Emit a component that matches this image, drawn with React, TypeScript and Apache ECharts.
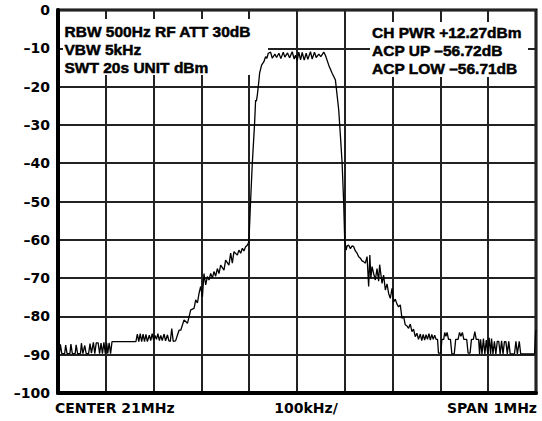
import React, { useEffect, useRef } from "react";
import * as echarts from "echarts";

// Frequency offset from centre (kHz) and level (dBm)
const leftFloor: number[][] = [
  [-500, -89.7], [-497, -89.7], [-495, -87.3], [-492, -89.7], [-486, -89.7], [-484, -87.5], [-481, -89.7],
  [-475, -89.7], [-473, -87.2], [-470, -89.7], [-464, -89.7], [-462, -87.4], [-459, -89.7], [-453, -89.7],
  [-451, -87.0], [-448, -89.7], [-444, -87.6], [-441, -89.7], [-436, -89.7], [-433, -87.1], [-430, -89.6],
  [-426, -86.8], [-423, -89.7], [-420, -86.9], [-416, -86.9], [-413, -89.7], [-410, -87.0], [-407, -89.7],
  [-404, -86.8], [-401, -89.7], [-398, -87.0], [-396, -89.7], [-393, -86.9], [-390, -89.7], [-387, -86.6],
  [-337, -86.6], [-334, -84.6], [-331, -86.6], [-328, -84.5], [-325, -86.6], [-322, -84.6], [-319, -86.6],
  [-316, -84.7], [-313, -86.6], [-309, -84.9], [-306, -86.3], [-303, -84.5], [-300, -86.2], [-297, -85.0],
  [-294, -86.0], [-291, -84.5], [-288, -86.3], [-285, -85.0], [-282, -86.3], [-278, -84.6], [-275, -86.4],
  [-271, -84.8], [-268, -86.4], [-265, -86.5], [-262, -83.2], [-259, -86.5], [-254, -86.4],
];

const leftSkirt: number[][] = [
  [-246.8, -83.6], [-243.2, -83.6], [-236.3, -80.9], [-229.2, -81.8], [-222.3, -78.3], [-215.4, -77.9],
  [-211.9, -75.7], [-208.3, -76.5], [-205, -74.0], [-201.5, -72.2], [-197.9, -74.9], [-194.6, -68.8],
  [-191.0, -71.8], [-187.5, -69.6], [-184.1, -70.5], [-180.6, -68.8], [-177.0, -70.0], [-173.7, -68.3],
  [-170.2, -69.5], [-166.6, -67.5], [-163.2, -68.8], [-159.7, -66.6], [-152.8, -67.9], [-149.3, -65.3],
  [-142.4, -66.6], [-138.8, -63.5], [-135.3, -66.1], [-131.9, -63.1], [-124.8, -64.0], [-121.5, -62.7],
  [-117.9, -63.5], [-114.4, -62.2], [-111.1, -62.9], [-107.5, -61.8], [-104.0, -61.4], [-100.6, -60.5],
  [-97, -49.6], [-93.5, -40], [-88.7, -29.6], [-86.6, -23.5], [-85, -23.8], [-83, -22.2], [-81, -20],
  [-78.2, -16.5], [-74.1, -14.4], [-69.3, -13.5], [-65.7, -12.2], [-63, -12.6], [-60.1, -11.3],
];

const channelTop: number[][] = [
  [-55.3, -11.0], [-51.7, -12.6], [-46.3, -11.5], [-42.8, -12.4], [-37.9, -11.3], [-33.7, -12.7],
  [-28.8, -11.0], [-25.4, -12.3], [-19.8, -11.2], [-15.6, -12.5], [-10, -10.9], [-5.9, -12.8],
  [-3.1, -11.8], [0.4, -13.2], [3.8, -11.0], [7.4, -13.0], [10.9, -11.1], [15.1, -13.1], [19.2, -11.3],
  [22.6, -12.9], [28.2, -10.9], [31.8, -12.8], [36.6, -11.0], [40.1, -12.4], [45.6, -11.5], [49.8, -12.2],
  [56, -11.0], [59.6, -11.9],
];

const rightSkirt: number[][] = [
  [66.4, -14.4], [73.5, -16.5], [80.4, -18.3], [87.3, -26.1], [90.9, -33], [94.4, -40], [97.7, -50.5],
  [99.8, -60], [102.8, -62.7], [104.8, -61.6], [108.2, -61.4], [111.7, -62.3], [115.3, -61.6],
  [118.6, -61.8], [122.1, -62.9], [125.7, -63.5], [129.0, -64.4], [132.6, -64.8], [136.1, -65.5],
  [139.5, -65.7], [143.0, -66.1], [146.6, -64.4], [149.9, -72.2], [152.4, -64.0], [154.5, -70.0],
  [157.0, -67.0], [160.3, -68.8], [163.9, -70.5], [167.4, -67.5], [170.8, -70.8], [172.9, -66.5],
  [177.9, -71.4], [181.2, -69.2], [184.8, -73.1], [188.3, -71.5], [191.7, -74.0], [195.2, -75.3],
  [198.8, -72.7], [202.1, -76.2], [205.6, -75.5], [209.2, -76.8], [212.5, -77.5], [216.1, -77.0],
  [219.6, -80.5], [223.0, -80.0], [226.5, -82.2], [230.0, -82.5], [233.4, -83.1], [237.0, -82.0],
  [240.5, -84.0], [243.8, -83.3], [247.4, -85.3], [250.9, -84.4], [254.2, -86.0],
];

const rightFloor: number[][] = [
  [258, -84.6], [261, -86.3], [264, -84.7], [267, -86.2], [270, -84.8], [273, -86.0], [276, -84.5],
  [279, -86.2], [282, -84.7], [285, -86.0], [288, -84.9], [291, -86.0], [294, -86.0], [296, -89.6],
  [301, -89.6], [303, -86.0], [307, -86.0], [309, -84.2], [311.5, -85.2], [314, -84.2], [317, -86.0],
  [321, -86.0], [324, -89.8], [329, -89.8], [332, -86.0], [337, -86.0], [340, -84.2], [343, -85.2],
  [346, -84.2], [349, -86.0], [355, -86.0], [358, -89.6], [362, -89.6], [365, -86.0], [369, -86.0],
  [372, -84.0], [375, -86.0], [380, -86.0], [382, -89.8], [384, -86.0], [387, -89.8], [390, -85.8],
  [393, -89.8], [396, -86.2], [399, -89.8], [402, -85.6], [405, -89.8], [407, -85.8], [410, -89.8],
  [413, -86.5], [416, -89.8], [419, -86.5], [422, -86.5], [425, -89.8], [428, -86.4], [431, -89.8],
  [434, -86.6], [437, -86.6], [440, -89.8], [443, -86.5], [446, -89.8], [455, -89.8], [458, -86.5],
  [461, -89.8], [465, -86.5], [468, -89.8], [497, -89.8], [499, -84.5], [500, -83.5],
];

const leftNotes = ["RBW 500Hz RF ATT 30dB", "VBW 5kHz", "SWT 20s UNIT dBm"];
const rightNotes = ["CH PWR +12.27dBm", "ACP UP \u201356.72dB", "ACP LOW \u201356.71dB"];
const bottomLabels = ["CENTER 21MHz", "100kHz/", "SPAN 1MHz"];

const FONT = "'DejaVu Sans', sans-serif";
const NOTE_FONT = "'Liberation Sans', Arial, sans-serif";

export default function App() {
  const ref = useRef<HTMLDivElement>(null);
  useEffect(() => {
    const chart = echarts.init(ref.current!, null, { renderer: "svg" });
    const trace = [...leftFloor, ...leftSkirt, ...channelTop, ...rightSkirt, ...rightFloor];
    const makeText = (
      t: string, x: number, y: number, align: string, family: string, size: number, heavy: number
    ) => ({
      type: "text",
      x,
      y,
      z: 10,
      style: {
        text: t,
        fill: "#000",
        stroke: heavy > 0 ? "#000" : undefined,
        lineWidth: heavy,
        fontFamily: family,
        fontWeight: 700,
        fontSize: size,
        textAlign: align,
        textVerticalAlign: "middle",
      },
    });
    const graphics: any[] = [
      { type: "rect", z: 1, shape: { x: 63, y: 19, width: 205, height: 56 }, style: { fill: "#fff" } },
      { type: "rect", z: 1, shape: { x: 370, y: 22, width: 158, height: 55 }, style: { fill: "#fff" } },
    ];
    leftNotes.forEach((t, i) =>
      graphics.push(makeText(t, 64.5, 31 + i * 18.3, "left", NOTE_FONT, 15.5, 0.5))
    );
    rightNotes.forEach((t, i) =>
      graphics.push(makeText(t, 372, 32 + i * 18.3, "left", NOTE_FONT, 15.5, 0.5))
    );
    const bottomPos: [number, string][] = [
      [55, "left"],
      [306, "center"],
      [537, "right"],
    ];
    bottomLabels.forEach((t, i) => {
      graphics.push(makeText(t, bottomPos[i][0], 408, bottomPos[i][1], FONT, 14, 0));
    });

    chart.setOption({
      animation: false,
      grid: {
        left: 58,
        top: 10,
        width: 478,
        height: 383,
        show: true,
        borderColor: "#000",
        borderWidth: 3,
      },
      xAxis: {
        type: "value",
        min: -500,
        max: 500,
        interval: 100,
        axisLine: { show: true, onZero: false, lineStyle: { color: "#000", width: 4 } },
        axisTick: { show: false },
        axisLabel: { show: false },
        splitLine: { show: true, lineStyle: { color: "#222", width: 2 } },
      },
      yAxis: {
        type: "value",
        min: -100,
        max: 0,
        interval: 10,
        axisLine: { show: true, onZero: false, lineStyle: { color: "#000", width: 4 } },
        axisTick: { show: false },
        axisLabel: {
          margin: 8,
          color: "#000",
          fontFamily: FONT,
          fontWeight: "bold",
          fontSize: 14,
          formatter: (v: number) => (v === 0 ? "0" : "\u2013" + Math.abs(v)),
        },
        splitLine: { show: true, lineStyle: { color: "#222", width: 2 } },
      },
      graphic: { elements: graphics },
      series: [
        {
          type: "line",
          data: trace,
          showSymbol: false,
          symbol: "none",
          z: 5,
          clip: false,
          lineStyle: { color: "#000", width: 1.3 },
        },
      ],
    });
    return () => chart.dispose();
  }, []);
  return (
    <div
      ref={ref}
      style={{ position: "fixed", left: 0, top: 0, width: 542, height: 421, background: "#fff" }}
    />
  );
}
